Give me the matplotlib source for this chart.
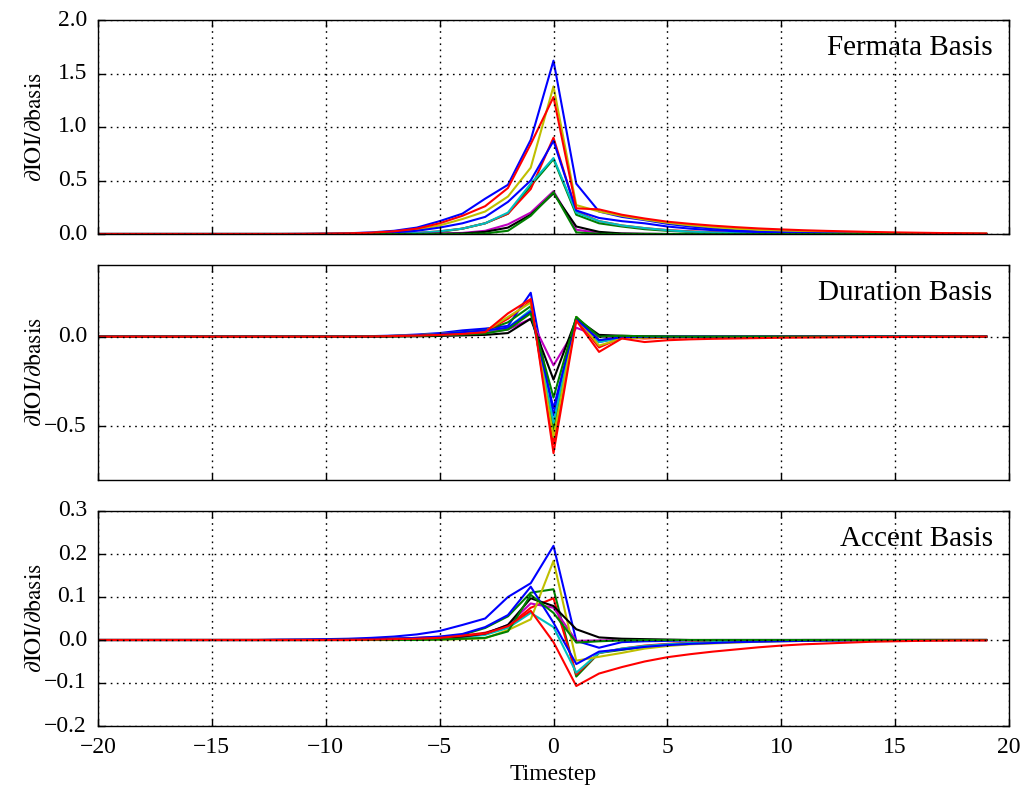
import numpy as np
import matplotlib
matplotlib.use("Agg")
import matplotlib.pyplot as plt
from matplotlib.ticker import FuncFormatter

plt.style.use('classic')
plt.rcParams['font.family'] = ['Liberation Serif', 'DejaVu Serif']
plt.rcParams['mathtext.fontset'] = 'stix'
plt.rcParams['axes.unicode_minus'] = True

timesteps = list(range(-20, 20))
colors = ['b', 'g', 'r', 'c', 'm', 'y', 'k', 'b', 'g', 'r']
pad = [0.0] * 8  # x = -20 .. -13 (flat zero)

# ---------------- Fermata basis (x=-12..-1 | x=0..19) ----------------
F_b1 = pad + [0, 0.001, 0.003, 0.007, 0.015, 0.03, 0.06, 0.12, 0.19, 0.33, 0.46, 0.88,
              1.62, 0.47, 0.21, 0.16, 0.13, 0.095, 0.07, 0.05, 0.035, 0.025, 0.018, 0.012, 0.008, 0.006, 0.004, 0.003, 0.002, 0.001, 0.001, 0.0]
F_g1 = pad + [0, 0, 0, 0, 0.001, 0.003, 0.008, 0.02, 0.05, 0.10, 0.19, 0.45,
              0.70, 0.18, 0.10, 0.07, 0.045, 0.03, 0.02, 0.012, 0.008, 0.005, 0.003, 0.002, 0.001, 0, 0, 0, 0, 0, 0, 0]
F_r2 = pad + [0, 0, 0, 0, 0.001, 0.004, 0.01, 0.025, 0.05, 0.10, 0.19, 0.42,
              0.90, 0.21, 0.12, 0.08, 0.055, 0.037, 0.025, 0.017, 0.011, 0.007, 0.005, 0.003, 0.002, 0.001, 0, 0, 0, 0, 0, 0]
F_c = pad + [0, 0, 0, 0, 0.001, 0.004, 0.01, 0.025, 0.05, 0.10, 0.20, 0.47,
             0.71, 0.20, 0.12, 0.08, 0.055, 0.035, 0.022, 0.014, 0.009, 0.006, 0.004, 0.002, 0.001, 0, 0, 0, 0, 0, 0, 0]
F_m = pad + [0, 0, 0, 0, 0, 0, 0.001, 0.004, 0.01, 0.03, 0.09, 0.20,
             0.40, 0.04, 0.01, 0.003, 0.001, 0, 0, 0, 0, 0, 0, 0, 0, 0, 0, 0, 0, 0, 0, 0]
F_y = pad + [0, 0, 0.002, 0.005, 0.01, 0.02, 0.04, 0.08, 0.14, 0.21, 0.35, 0.62,
             1.38, 0.27, 0.21, 0.17, 0.135, 0.105, 0.082, 0.064, 0.05, 0.039, 0.03, 0.023, 0.018, 0.014, 0.011, 0.008, 0.006, 0.005, 0.004, 0.003]
F_k = pad + [0, 0, 0, 0, 0, 0, 0, 0.002, 0.005, 0.02, 0.06, 0.18,
             0.38, 0.07, 0.02, 0.005, 0.002, 0, 0, 0, 0, 0, 0, 0, 0, 0, 0, 0, 0, 0, 0, 0]
F_b2 = pad + [0, 0, 0.001, 0.003, 0.007, 0.015, 0.03, 0.06, 0.10, 0.16, 0.30, 0.50,
              0.87, 0.22, 0.15, 0.12, 0.10, 0.07, 0.05, 0.036, 0.026, 0.018, 0.013, 0.009, 0.006, 0.004, 0.003, 0.002, 0.001, 0, 0, 0]
F_g2 = pad + [0, 0, 0, 0, 0, 0, 0, 0, 0.001, 0.005, 0.03, 0.17,
              0.39, 0.015, 0.002, 0, 0, 0, 0, 0, 0, 0, 0, 0, 0, 0, 0, 0, 0, 0, 0, 0]
F_r1 = pad + [0, 0.001, 0.003, 0.006, 0.012, 0.025, 0.05, 0.10, 0.17, 0.26, 0.43, 0.84,
              1.28, 0.24, 0.23, 0.18, 0.145, 0.115, 0.095, 0.078, 0.064, 0.052, 0.043, 0.035, 0.029, 0.024, 0.019, 0.015, 0.012, 0.009, 0.007, 0.005]

# ---------------- Duration basis ----------------
D_b1 = pad + [0, 0, 0, 0.001, 0.003, 0.006, 0.012, 0.02, 0.035, 0.045, 0.06, 0.245,
              -0.44, 0.10, -0.03, -0.005, -0.004, -0.003, -0.002, -0.001, 0, 0, 0, 0, 0, 0, 0, 0, 0, 0, 0, 0]
D_g1 = pad + [0, 0, 0, 0, 0.002, 0.004, 0.008, 0.015, 0.025, 0.035, 0.08, 0.17,
              -0.52, 0.11, -0.02, -0.003, -0.002, -0.001, 0, 0, 0, 0, 0, 0, 0, 0, 0, 0, 0, 0, 0, 0]
D_r2 = pad + [0, 0, 0, 0, 0.002, 0.004, 0.008, 0.015, 0.022, 0.03, 0.10, 0.20,
              -0.60, 0.10, -0.06, -0.005, -0.01, -0.006, -0.004, -0.003, -0.002, -0.001, 0, 0, 0, 0, 0, 0, 0, 0, 0, 0]
D_c = pad + [0, 0, 0, 0, 0.002, 0.004, 0.008, 0.015, 0.025, 0.03, 0.05, 0.15,
             -0.48, 0.10, -0.03, -0.005, -0.002, -0.001, 0, 0, 0, 0, 0, 0, 0, 0, 0, 0, 0, 0, 0, 0]
D_m = pad + [0, 0, 0, 0, 0.002, 0.004, 0.007, 0.012, 0.018, 0.022, 0.04, 0.10,
             -0.16, 0.05, 0.0, -0.002, -0.001, 0, 0, 0, 0, 0, 0, 0, 0, 0, 0, 0, 0, 0, 0, 0]
D_y = pad + [0, 0, 0, 0, 0.002, 0.004, 0.008, 0.015, 0.022, 0.03, 0.11, 0.19,
             -0.56, 0.11, -0.05, -0.01, -0.005, -0.003, -0.002, -0.001, 0, 0, 0, 0, 0, 0, 0, 0, 0, 0, 0, 0]
D_k = pad + [0, 0, 0, 0, 0, 0.001, 0.002, 0.004, 0.007, 0.01, 0.02, 0.10,
             -0.24, 0.10, 0.01, 0.005, 0.002, 0.001, 0, 0, 0, 0, 0, 0, 0, 0, 0, 0, 0, 0, 0, 0]
D_b2 = pad + [0, 0, 0, 0, 0.002, 0.004, 0.008, 0.015, 0.025, 0.035, 0.05, 0.14,
              -0.40, 0.10, -0.02, -0.003, -0.001, 0, 0, 0, 0, 0, 0, 0, 0, 0, 0, 0, 0, 0, 0, 0]
D_g2 = pad + [0, 0, 0, 0, 0.001, 0.002, 0.004, 0.008, 0.012, 0.018, 0.04, 0.13,
              -0.34, 0.11, 0.0, 0.005, 0.002, 0.001, 0, 0, 0, 0, 0, 0, 0, 0, 0, 0, 0, 0, 0, 0]
D_r1 = pad + [0, 0, 0, 0, 0.001, 0.003, 0.006, 0.01, 0.015, 0.025, 0.13, 0.21,
              -0.65, 0.09, -0.085, -0.01, -0.03, -0.02, -0.015, -0.012, -0.01, -0.008, -0.006, -0.005, -0.004, -0.003, -0.002, -0.002, -0.001, -0.001, 0, 0]

# ---------------- Accent basis ----------------
A_b1 = pad + [0.001, 0.0015, 0.002, 0.003, 0.005, 0.008, 0.013, 0.021, 0.035, 0.05, 0.10, 0.132,
              0.219, -0.002, -0.018, -0.005, -0.003, -0.002, -0.001, 0, 0, 0, 0, 0, 0, 0, 0, 0, 0, 0, 0, 0]
A_g1 = pad + [0, 0, 0, 0.001, 0.002, 0.003, 0.004, 0.006, 0.012, 0.028, 0.055, 0.11,
              0.118, -0.085, -0.03, -0.023, -0.016, -0.012, -0.009, -0.006, -0.004, -0.003, -0.002, -0.001, 0, 0, 0, 0, 0, 0, 0, 0]
A_r2 = pad + [0, 0, 0, 0.001, 0.002, 0.003, 0.005, 0.007, 0.01, 0.017, 0.032, 0.075,
              0.097, -0.08, -0.03, -0.02, -0.013, -0.009, -0.006, -0.004, -0.003, -0.002, -0.001, 0, 0, 0, 0, 0, 0, 0, 0, 0]
A_c = pad + [0, 0, 0, 0, 0.001, 0.002, 0.003, 0.004, 0.006, 0.012, 0.028, 0.063,
             0.03, -0.076, -0.03, -0.02, -0.014, -0.01, -0.007, -0.005, -0.003, -0.002, -0.001, 0, 0, 0, 0, 0, 0, 0, 0, 0]
A_m = pad + [0, 0, 0, 0, 0.001, 0.002, 0.003, 0.005, 0.008, 0.015, 0.035, 0.085,
             0.075, -0.002, -0.001, 0, 0, 0, 0, 0, 0, 0, 0, 0, 0, 0, 0, 0, 0, 0, 0, 0]
A_y = pad + [0, 0, 0, 0, 0, 0, 0.001, 0.001, 0.002, 0.004, 0.023, 0.048,
             0.184, -0.048, -0.039, -0.03, -0.02, -0.014, -0.01, -0.008, -0.006, -0.004, -0.003, -0.002, -0.001, 0, 0, 0, 0, 0, 0, 0]
A_k = pad + [0, 0, 0, 0, 0.001, 0.002, 0.003, 0.005, 0.008, 0.015, 0.035, 0.097,
             0.079, 0.025, 0.006, 0.003, 0.002, 0.001, 0, 0, 0, 0, 0, 0, 0, 0, 0, 0, 0, 0, 0, 0]
A_b2 = pad + [0, 0, 0.001, 0.001, 0.002, 0.003, 0.005, 0.008, 0.014, 0.03, 0.058, 0.124,
              0.04, -0.056, -0.027, -0.022, -0.016, -0.012, -0.009, -0.007, -0.005, -0.004, -0.003, -0.002, -0.0015, -0.001, 0, 0, 0, 0, 0, 0]
A_g2 = pad + [0, 0, 0, 0, 0, 0, 0, 0.001, 0.003, 0.005, 0.02, 0.105,
              0.063, -0.006, -0.003, -0.001, 0, 0, 0, 0, 0, 0, 0, 0, 0, 0, 0, 0, 0, 0, 0, 0]
A_r1 = pad + [0, 0, 0, 0, 0.001, 0.002, 0.003, 0.005, 0.01, 0.015, 0.032, 0.068,
              -0.005, -0.107, -0.078, -0.063, -0.05, -0.04, -0.033, -0.027, -0.022, -0.017, -0.013, -0.01, -0.008, -0.006, -0.004, -0.003, -0.002, -0.0015, -0.001, -0.001]

fermata = [F_b1, F_g1, F_r2, F_c, F_m, F_y, F_k, F_b2, F_g2, F_r1]
duration = [D_b1, D_g1, D_r2, D_c, D_m, D_y, D_k, D_b2, D_g2, D_r1]
accent = [A_b1, A_g1, A_r2, A_c, A_m, A_y, A_k, A_b2, A_g2, A_r1]

panel_titles = ['Fermata Basis', 'Duration Basis', 'Accent Basis']
panel_ylims = [(0.0, 2.0), (-0.8, 0.4), (-0.2, 0.3)]
panel_yticks = [[0.0, 0.5, 1.0, 1.5, 2.0], [-0.5, 0.0], [-0.2, -0.1, 0.0, 0.1, 0.2, 0.3]]
xticks = [-20, -15, -10, -5, 0, 5, 10, 15, 20]

W, H = 1024, 791
fig = plt.figure(figsize=(W / 100, H / 100), dpi=100, facecolor='white')
left, right = 98 / W, 1009 / W
boxes = [(20, 234), (265, 480), (511, 726)]
fmt = FuncFormatter(lambda v, p: ('%.1f' % v).replace('-', '\u2212'))
axes = []
for i, (series, title, yl, yt, (t, b)) in enumerate(zip([fermata, duration, accent], panel_titles,
                                                         panel_ylims, panel_yticks, boxes)):
    ax = fig.add_axes([left, 1 - b / H, right - left, (b - t) / H],
                      sharex=axes[0] if axes else None)
    ax.set_facecolor('white')
    for s, c in zip(series, colors):
        assert len(s) == len(timesteps)
        ax.plot(timesteps, s, color=c, lw=1.5)
    ax.set_xlim(-20, 20)
    ax.set_ylim(*yl)
    ax.set_yticks(yt)
    ax.yaxis.set_major_formatter(fmt)
    ax.set_xticks(xticks)
    ax.grid(True, color='k', linestyle=(0, (1.2, 3.2)), linewidth=1.0)
    ax.tick_params(labelsize=17, direction='in', top=True, right=True, length=5, width=1)
    ax.tick_params(axis='x', pad=8)
    ax.tick_params(axis='y', pad=8)
    ax.set_ylabel(r'$\partial\mathrm{IOI}/\partial\mathrm{basis}$', fontsize=17)
    ax.yaxis.set_label_coords(-0.057, 0.5)
    ax.text(0.982, 0.93, title, transform=ax.transAxes, ha='right', va='top', fontsize=21)
    if i < 2:
        plt.setp(ax.get_xticklabels(), visible=False)
    axes.append(ax)

axes[-1].set_xlabel('Timestep', fontsize=17, labelpad=4)
fig.savefig('out.png', dpi=100, facecolor='white')
